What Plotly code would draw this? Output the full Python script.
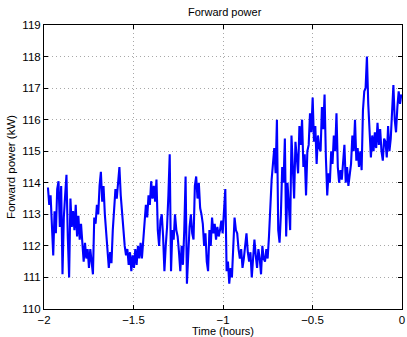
import numpy as np
import plotly.graph_objects as go

t_start = -1.978
t_end = -0.0037

power_kw = [
    113.85, 113.3, 113.6, 112.7, 111.7, 113.1, 112.4, 113.8, 114.05, 112.6,
    113.9, 111.1, 112.9, 113.6, 114.25, 112.3, 111.0, 113.5, 112.6, 113.1,
    112.5, 113.3, 112.3, 112.95, 112.2, 112.7, 111.9, 111.5, 112.1, 111.6,
    111.9, 111.3, 111.9, 111.5, 111.1, 112.9, 112.7, 113.3, 113.0, 113.9,
    114.35, 113.4, 113.9, 113.0, 112.4, 112.0, 111.3, 111.8, 111.45, 112.5,
    113.2, 113.8, 113.5, 114.0, 114.5, 113.6, 113.0, 112.3, 112.0, 111.7,
    111.9, 111.4, 111.8, 111.2, 111.7, 111.3, 111.9, 111.4, 112.0, 111.6,
    112.1, 111.6, 112.2, 112.6, 113.3, 112.9, 113.6, 113.3, 114.05, 113.5,
    113.9, 113.4, 114.1, 112.5, 112.0, 112.8, 113.0, 112.3, 111.2, 112.0,
    112.6, 113.6, 114.9, 111.2, 112.5, 112.2, 113.0, 112.5, 112.3, 111.8,
    111.2, 112.0, 111.4, 112.5, 114.2, 110.8, 112.0, 112.6, 113.0, 112.4,
    112.2, 113.9, 114.2, 113.5, 114.0, 113.2, 113.0, 112.7, 112.0, 112.4,
    111.5, 111.2, 112.5, 112.0, 112.9, 112.4, 112.7, 112.2, 112.6, 112.3,
    112.5, 112.8, 112.4, 113.0, 113.8, 111.2, 111.5, 110.8, 111.3, 111.0,
    112.0, 112.9, 112.5, 112.4, 111.9, 111.6, 111.9, 111.3, 111.6, 112.0,
    112.4, 111.8, 111.5, 111.8, 111.0, 111.6, 112.2, 111.7, 111.3, 111.9,
    111.6, 111.1, 112.0, 111.6, 111.5, 111.9, 111.6, 112.3, 113.5, 114.1,
    114.6, 115.1, 114.3, 116.0, 112.5, 112.1, 113.0, 114.5, 114.0, 115.4,
    112.3, 114.0, 113.3, 112.5, 115.5, 114.6, 113.5, 115.3, 114.8, 114.3,
    115.8, 115.2, 116.0, 114.5, 114.9, 113.6, 115.0, 115.2, 116.2, 115.6,
    116.7, 115.3, 115.8, 114.6, 115.5, 115.1, 115.0, 116.4, 115.7, 116.8,
    114.8, 113.6, 114.3, 114.0, 115.0, 114.6, 115.5, 115.0, 116.2, 114.5,
    114.0, 114.4, 114.1, 114.8, 115.2, 114.0, 114.5, 113.9, 114.3, 114.6,
    115.5, 115.0, 116.0, 114.7, 115.1, 114.5, 115.0, 114.4, 116.3, 116.9,
    117.0, 118.0, 116.5, 115.6, 114.8, 115.5, 115.0, 115.6, 115.1, 115.9,
    115.2, 115.7, 115.0, 114.7, 115.4, 115.3, 114.8, 115.8, 115.0, 115.4,
    116.3, 117.1, 116.0, 115.6, 116.4, 116.9, 116.5, 116.8,
]

time_hours = np.linspace(t_start, t_end, len(power_kw))

x_ticks = [-2, -1.5, -1, -0.5, 0]
x_tick_labels = ["\u22122", "\u22121.5", "\u22121", "\u22120.5", "0"]
y_ticks = list(range(110, 120))

font_family = "Liberation Sans, Arial, Helvetica, sans-serif"

fig = go.Figure()
fig.add_trace(go.Scatter(
    x=time_hours, y=power_kw, mode="lines",
    line=dict(color="#0000ff", width=2.1),
    showlegend=False, hoverinfo="skip",
))

axis_common = dict(
    showline=True, linecolor="black", linewidth=1, mirror="ticks",
    ticks="inside", ticklen=4, tickcolor="black",
    showgrid=True, gridcolor="#a8a8a8", griddash="1px,3px", gridwidth=1,
    zeroline=False, ticklabeloverflow="allow",
    tickfont=dict(family=font_family, size=11.5, color="black"),
)

fig.update_layout(
    width=407, height=337,
    margin=dict(l=44, r=2, t=25, b=26),
    paper_bgcolor="white", plot_bgcolor="white",
    title=dict(text="Forward power", x=0.552, xanchor="center",
               y=1 - 12 / 337, yanchor="middle", yref="container",
               font=dict(family=font_family, size=11, color="black")),
    xaxis=dict(range=[-2, 0], tickvals=x_ticks, ticktext=x_tick_labels,
               title=dict(text="Time (hours)", standoff=2,
                          font=dict(family=font_family, size=11, color="black")),
               **axis_common),
    yaxis=dict(range=[110, 119], tickvals=y_ticks,
               title=dict(text="Forward power (kW)", standoff=4,
                          font=dict(family=font_family, size=11.5, color="black")),
               **axis_common),
)

fig.write_html("out.html")
